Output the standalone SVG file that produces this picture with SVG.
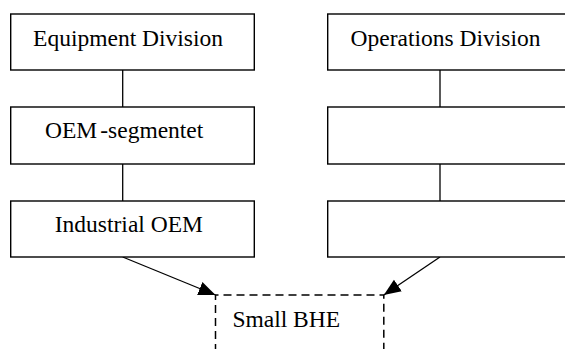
<svg xmlns="http://www.w3.org/2000/svg" width="565" height="349" viewBox="0 0 565 349">
  <style>
    .box { fill: #ffffff; stroke: #000000; stroke-width: 1.4; }
    .dash { fill: none; stroke: #000000; stroke-width: 1.5; stroke-dasharray: 8 5; }
    .link { fill: none; stroke: #000000; stroke-width: 1.3; }
    .lbl { font-family: "Liberation Serif", "Times New Roman", serif; font-size: 23.5px; fill: #000000; }
  </style>
  <defs>
    <marker id="arrow" markerUnits="userSpaceOnUse" markerWidth="18" markerHeight="15" refX="17" refY="7.5" orient="auto">
      <path d="M0,0.5 L17,7.5 L0,14.5 Z" fill="#000000"/>
    </marker>
  </defs>
  <rect width="565" height="349" fill="#ffffff"/>

  <!-- connectors -->
  <g id="connectors">
    <line class="link" x1="122.7" y1="70" x2="122.7" y2="107"/>
    <line class="link" x1="122.7" y1="164" x2="122.7" y2="201"/>
    <line class="link" x1="440" y1="70" x2="440" y2="107"/>
    <line class="link" x1="440" y1="164" x2="440" y2="201"/>
    <line class="link" x1="122.7" y1="257" x2="215.5" y2="295" marker-end="url(#arrow)"/>
    <line class="link" x1="440" y1="257" x2="383.8" y2="295" marker-end="url(#arrow)"/>
  </g>

  <!-- left column -->
  <g id="equipment-division">
    <rect class="box" x="10.7" y="14" width="243.6" height="56"/>
    <text class="lbl" x="33.1" y="45.7">Equipment Division</text>
  </g>
  <g id="oem-segmentet">
    <rect class="box" x="10.7" y="107" width="243.6" height="57"/>
    <text class="lbl" x="45" y="138.3">OEM<tspan dx="3">-segmentet</tspan></text>
  </g>
  <g id="industrial-oem">
    <rect class="box" x="10.7" y="201" width="243.6" height="56"/>
    <text class="lbl" x="54.8" y="232.3">Industrial OEM</text>
  </g>

  <!-- right column -->
  <g id="operations-division">
    <rect class="box" x="327.7" y="14" width="243.6" height="56"/>
    <text class="lbl" x="350.6" y="45.7">Operations Division</text>
  </g>
  <g id="operations-unit-2">
    <rect class="box" x="327.7" y="107" width="243.6" height="57"/>
  </g>
  <g id="operations-unit-3">
    <rect class="box" x="327.7" y="201" width="243.6" height="56"/>
  </g>

  <!-- target -->
  <g id="small-bhe">
    <path class="dash" d="M215.5,352 L215.5,295 L383.8,295 L383.8,352"/>
    <text class="lbl" x="232.4" y="326.7">Small BHE</text>
  </g>
</svg>
